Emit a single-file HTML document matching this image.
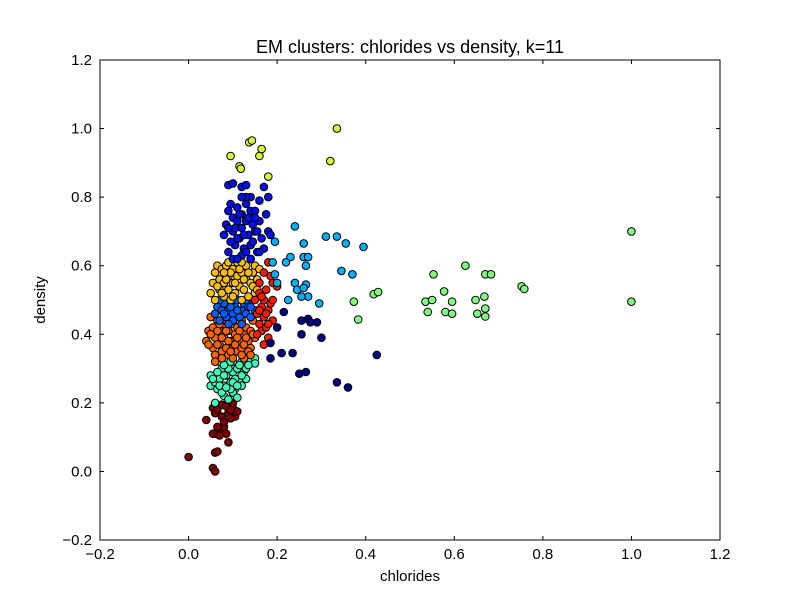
<!DOCTYPE html>
<html><head><meta charset="utf-8">
<style>
html,body{margin:0;padding:0;background:#fff;}
svg text{font-family:"Liberation Sans","DejaVu Sans",sans-serif;}
</style></head>
<body>
<svg id="chart" width="800" height="600" xmlns="http://www.w3.org/2000/svg">
<rect x="0" y="0" width="800" height="600" fill="#ffffff"/>
<text x="410" y="53" font-size="18" text-anchor="middle">EM clusters: chlorides vs density, k=11</text>
<g id="marks"></g>
<rect x="100" y="60" width="620" height="480" fill="none" stroke="#000" stroke-width="1"/>
<g id="axes"></g>
<text x="410" y="581" font-size="15" text-anchor="middle">chlorides</text>
<text x="45" y="300" font-size="15" text-anchor="middle" transform="rotate(-90 45 300)">density</text>
</svg>
<script>
const xTicks=[-0.2,0.0,0.2,0.4,0.6,0.8,1.0,1.2];
const yTicks=[-0.2,0.0,0.2,0.4,0.6,0.8,1.0,1.2];
const xTickLabels=["\u22120.2","0.0","0.2","0.4","0.6","0.8","1.0","1.2"];
const yTickLabels=["\u22120.2","0.0","0.2","0.4","0.6","0.8","1.0","1.2"];
const clusterColors=["#800000","#40ffb8","#ff6600","#0060ff","#ffc000","#ff1a00","#0010e8","#00b0ff","#000080","#d0ff30","#80ff80"];
const c0=[[0,0.042],[0.04,0.15],[0.055,0.185],[0.06,0.17],[0.065,0.18],[0.075,0.16],[0.09,0.17],[0.1,0.185],[0.105,0.16],[0.11,0.175],[0.06,0.11],[0.07,0.12],[0.08,0.13],[0.085,0.11],[0.065,0.13],[0.09,0.085],[0.095,0.155],[0.06,0.055],[0.065,0.058],[0.055,0.01],[0.06,0.0],[0.075,0.195],[0.08,0.145],[0.1,0.2],[0.055,0.11],[0.07,0.105],[0.085,0.19],[0.095,0.18]];
const c1=[[0.05,0.25],[0.05,0.28],[0.06,0.26],[0.065,0.24],[0.07,0.27],[0.075,0.3],[0.08,0.25],[0.085,0.28],[0.09,0.31],[0.095,0.26],[0.1,0.29],[0.105,0.24],[0.11,0.3],[0.115,0.27],[0.12,0.32],[0.125,0.29],[0.13,0.3],[0.14,0.32],[0.15,0.33],[0.15,0.315],[0.08,0.22],[0.09,0.21],[0.1,0.23],[0.11,0.215],[0.12,0.25],[0.07,0.32],[0.085,0.33],[0.1,0.32],[0.06,0.2],[0.13,0.27],[0.095,0.24],[0.075,0.23],[0.055,0.27],[0.065,0.29],[0.08,0.28],[0.09,0.3],[0.105,0.27],[0.115,0.31],[0.12,0.28],[0.135,0.31],[0.07,0.25],[0.085,0.245],[0.1,0.26],[0.11,0.25],[0.095,0.32],[0.08,0.31]];
const c2=[[0.04,0.38],[0.045,0.41],[0.05,0.45],[0.055,0.42],[0.055,0.36],[0.06,0.34],[0.06,0.39],[0.065,0.44],[0.07,0.37],[0.07,0.41],[0.075,0.35],[0.08,0.43],[0.08,0.39],[0.085,0.36],[0.09,0.41],[0.09,0.34],[0.095,0.38],[0.1,0.43],[0.1,0.36],[0.105,0.4],[0.11,0.35],[0.11,0.42],[0.115,0.38],[0.12,0.44],[0.12,0.36],[0.125,0.4],[0.13,0.34],[0.13,0.42],[0.135,0.38],[0.14,0.41],[0.14,0.36],[0.145,0.44],[0.15,0.39],[0.06,0.32],[0.075,0.33],[0.1,0.33],[0.125,0.33],[0.05,0.4],[0.065,0.37],[0.075,0.39],[0.085,0.41],[0.085,0.44],[0.095,0.35],[0.105,0.37],[0.115,0.41],[0.125,0.37],[0.135,0.35],[0.145,0.4],[0.065,0.41],[0.09,0.38],[0.11,0.39],[0.13,0.39],[0.045,0.37],[0.07,0.43],[0.12,0.34],[0.14,0.34]];
const c3=[[0.06,0.46],[0.065,0.48],[0.07,0.44],[0.075,0.47],[0.08,0.49],[0.085,0.45],[0.09,0.47],[0.095,0.5],[0.1,0.46],[0.1,0.44],[0.105,0.48],[0.11,0.5],[0.115,0.45],[0.12,0.47],[0.125,0.49],[0.13,0.46],[0.135,0.48],[0.14,0.45],[0.145,0.5],[0.15,0.47],[0.09,0.43],[0.12,0.43],[0.07,0.5],[0.08,0.46],[0.095,0.48],[0.11,0.47],[0.13,0.5],[0.14,0.48]];
const c4=[[0.05,0.52],[0.055,0.55],[0.06,0.58],[0.065,0.6],[0.07,0.53],[0.07,0.56],[0.075,0.59],[0.08,0.51],[0.08,0.55],[0.085,0.6],[0.09,0.53],[0.09,0.57],[0.095,0.5],[0.1,0.55],[0.1,0.59],[0.105,0.52],[0.11,0.57],[0.11,0.61],[0.115,0.54],[0.12,0.5],[0.12,0.58],[0.125,0.53],[0.13,0.56],[0.13,0.6],[0.135,0.51],[0.14,0.55],[0.14,0.62],[0.145,0.58],[0.15,0.52],[0.15,0.6],[0.155,0.56],[0.16,0.59],[0.06,0.5],[0.065,0.54],[0.09,0.61],[0.075,0.52],[0.085,0.56],[0.095,0.58],[0.105,0.55],[0.115,0.59],[0.125,0.56],[0.135,0.58],[0.145,0.54],[0.155,0.53],[0.1,0.51],[0.08,0.58],[0.12,0.61]];
const c5=[[0.15,0.5],[0.155,0.46],[0.16,0.43],[0.16,0.52],[0.165,0.48],[0.165,0.41],[0.17,0.45],[0.17,0.5],[0.175,0.53],[0.175,0.42],[0.18,0.47],[0.18,0.39],[0.185,0.49],[0.19,0.44],[0.19,0.5],[0.155,0.4],[0.17,0.58],[0.18,0.61],[0.185,0.57],[0.19,0.55],[0.2,0.54],[0.16,0.55],[0.17,0.37],[0.18,0.43],[0.165,0.51],[0.175,0.46],[0.16,0.47]];
const c6=[[0.09,0.835],[0.1,0.84],[0.12,0.83],[0.13,0.835],[0.14,0.8],[0.16,0.79],[0.17,0.83],[0.18,0.8],[0.08,0.69],[0.085,0.72],[0.09,0.76],[0.095,0.78],[0.1,0.74],[0.1,0.7],[0.105,0.66],[0.11,0.77],[0.11,0.73],[0.115,0.68],[0.12,0.75],[0.12,0.71],[0.125,0.65],[0.13,0.78],[0.13,0.73],[0.135,0.69],[0.14,0.76],[0.14,0.66],[0.145,0.72],[0.15,0.7],[0.15,0.76],[0.155,0.64],[0.16,0.73],[0.165,0.68],[0.17,0.65],[0.175,0.75],[0.18,0.7],[0.185,0.69],[0.09,0.64],[0.1,0.62],[0.12,0.63],[0.14,0.62],[0.16,0.64],[0.095,0.67],[0.13,0.8],[0.12,0.8],[0.11,0.62],[0.105,0.71],[0.115,0.75],[0.125,0.69],[0.135,0.74],[0.145,0.67],[0.155,0.7],[0.09,0.71],[0.11,0.68],[0.13,0.64],[0.15,0.74]];
const c7=[[0.24,0.715],[0.26,0.665],[0.31,0.685],[0.335,0.685],[0.355,0.665],[0.395,0.655],[0.26,0.625],[0.27,0.625],[0.23,0.625],[0.22,0.61],[0.345,0.585],[0.37,0.575],[0.265,0.6],[0.24,0.55],[0.245,0.53],[0.27,0.51],[0.255,0.51],[0.295,0.49],[0.225,0.5],[0.195,0.575],[0.19,0.61],[0.2,0.55],[0.195,0.67],[0.265,0.545],[0.26,0.535]];
const c8=[[0.215,0.465],[0.255,0.44],[0.27,0.445],[0.275,0.435],[0.29,0.435],[0.3,0.39],[0.255,0.4],[0.21,0.345],[0.235,0.345],[0.185,0.33],[0.25,0.285],[0.265,0.29],[0.335,0.26],[0.36,0.245],[0.425,0.34],[0.185,0.375],[0.2,0.42]];
const c9=[[0.335,1.0],[0.32,0.905],[0.137,0.96],[0.143,0.965],[0.165,0.94],[0.095,0.92],[0.16,0.92],[0.115,0.89],[0.118,0.883],[0.18,0.86]];
const c10=[[0.535,0.495],[0.55,0.5],[0.54,0.465],[0.553,0.575],[0.577,0.525],[0.58,0.465],[0.595,0.495],[0.595,0.46],[0.625,0.6],[0.648,0.5],[0.67,0.575],[0.683,0.575],[0.668,0.51],[0.67,0.475],[0.67,0.452],[0.652,0.46],[0.752,0.54],[0.758,0.532],[1.0,0.70],[1.0,0.495],[0.373,0.495],[0.383,0.443],[0.418,0.517],[0.428,0.523]];
const clusters=[c0,c1,c2,c3,c4,c5,c6,c7,c8,c9,c10];

const X0=100,X1=720,Y0=540,Y1=60;
function sx(v){return X0+(v-(-0.2))/(1.4)*(X1-X0);}
function sy(v){return Y0-(v-(-0.2))/(1.4)*(Y0-Y1);}
const NS="http://www.w3.org/2000/svg";
const marks=document.getElementById('marks');
const drawOrder=[0,1,2,3,4,5,6,7,8,9,10];
drawOrder.forEach(ci=>{
  clusters[ci].forEach(p=>{
    const c=document.createElementNS(NS,'circle');
    c.setAttribute('cx',sx(p[0]).toFixed(1));
    c.setAttribute('cy',sy(p[1]).toFixed(1));
    c.setAttribute('r','3.8');
    c.setAttribute('fill',clusterColors[ci]);
    c.setAttribute('stroke','#000');
    c.setAttribute('stroke-width','1');
    
    
    marks.appendChild(c);
  });
});
const axes=document.getElementById('axes');
xTicks.forEach((t,i)=>{
  const x=sx(t);
  [[Y0,Y0-4],[Y1,Y1+4]].forEach(a=>{
    const l=document.createElementNS(NS,'line');
    l.setAttribute('x1',x);l.setAttribute('x2',x);l.setAttribute('y1',a[0]);l.setAttribute('y2',a[1]);
    l.setAttribute('stroke','#000');
    
    
    axes.appendChild(l);
  });
  const tx=document.createElementNS(NS,'text');
  tx.setAttribute('x',x);tx.setAttribute('y',Y0+19);
  tx.setAttribute('font-size','15');tx.setAttribute('text-anchor','middle');
  tx.textContent=xTickLabels[i];
  
  
  axes.appendChild(tx);
});
yTicks.forEach((t,i)=>{
  const y=sy(t);
  [[X0,X0+4],[X1,X1-4]].forEach(a=>{
    const l=document.createElementNS(NS,'line');
    l.setAttribute('x1',a[0]);l.setAttribute('x2',a[1]);l.setAttribute('y1',y);l.setAttribute('y2',y);
    l.setAttribute('stroke','#000');
    
    
    axes.appendChild(l);
  });
  const tx=document.createElementNS(NS,'text');
  tx.setAttribute('x',X0-8);tx.setAttribute('y',y+5);
  tx.setAttribute('font-size','15');tx.setAttribute('text-anchor','end');
  tx.textContent=yTickLabels[i];
  
  
  axes.appendChild(tx);
});
</script>
</body></html>
